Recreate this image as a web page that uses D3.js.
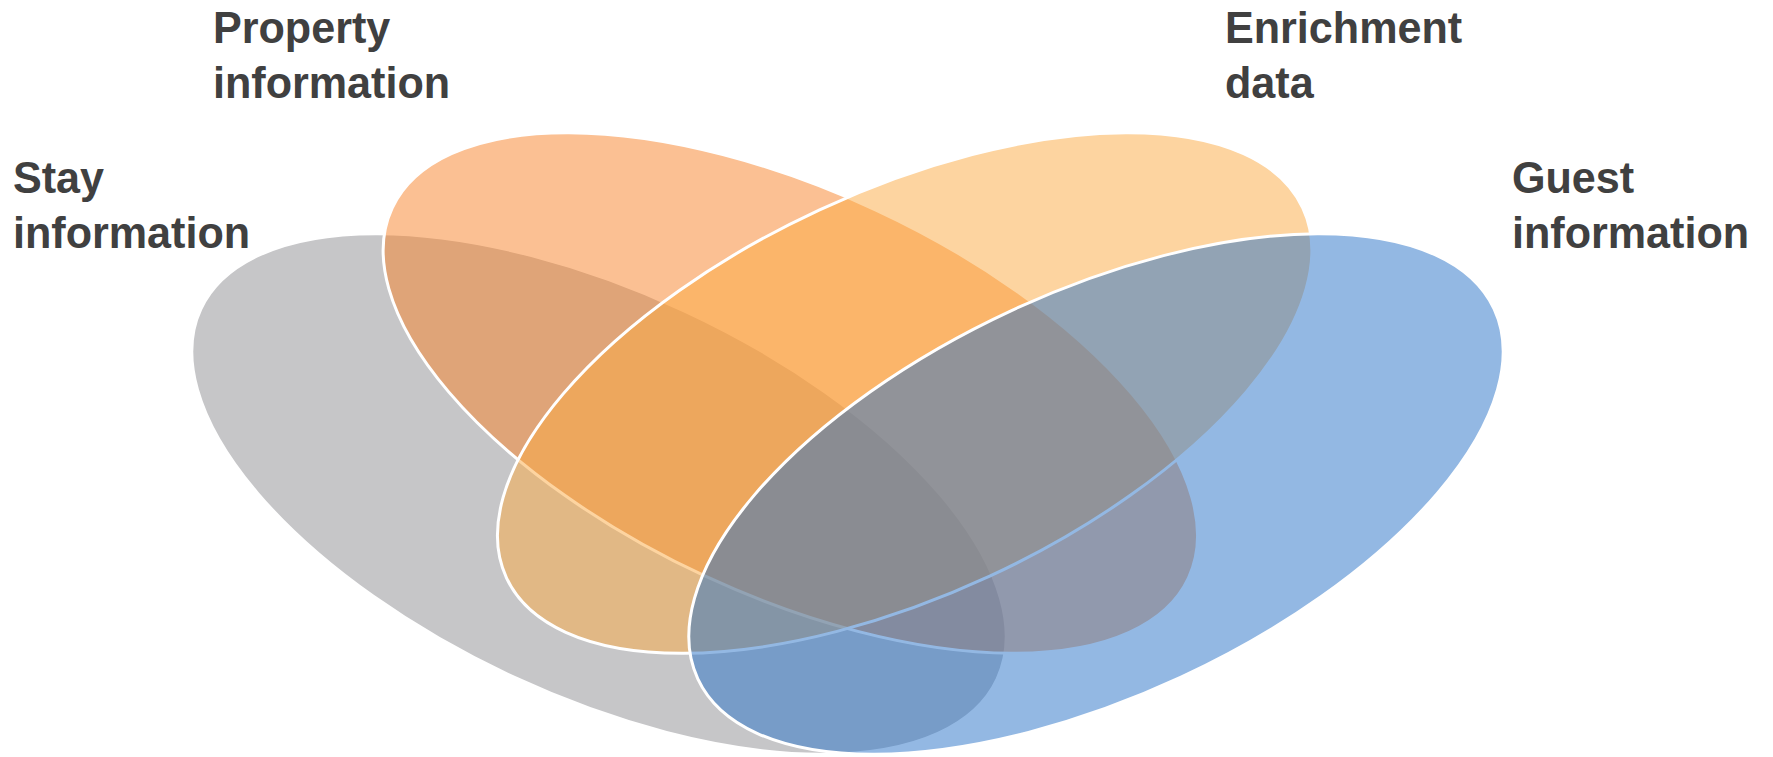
<!DOCTYPE html>
<html>
<head>
<meta charset="utf-8">
<script src="https://cdn.jsdelivr.net/npm/d3@7"></script>
<style>
  body { margin: 0; background: #fff; }
  svg { display: block; }
  .lbl { font-family: "Liberation Sans", Arial, sans-serif;
         font-weight: bold; font-size: 44px; fill: #404040; }
</style>
</head>
<body>
<div class="venn"></div>
<script>
// sets of the diagram (drawn in this order, first one at the bottom)
const setNames = ["Stay information", "Property information", "Enrichment data", "Guest information"]
const labelLines = [["Stay", "information"], ["Property", "information"], ["Enrichment", "data"], ["Guest", "information"]]
const setColors = ["#8d8d91", "#f78127", "#fba941", "#2771c7"]
// position of each set in venn units
const setX = [-1, -0.23, 0.23, 1]
const setY = [1, 0, 0, 1]
const setTilt = [1, 1, -1, -1]

// set the dimensions of the graph
var width = 1773,
    height = 757

var svg = d3.select(".venn")
  .append("svg")
  .attr("width", width)
  .attr("height", height)

var x = d3.scaleLinear().domain([-1, 1]).range([599, 1096])
var y = d3.scaleLinear().domain([0, 1]).range([393, 494])

const rx = 439, ry = 202, angle = 24.9

const data = setNames.map((d, i) => ({ name: d, lines: labelLines[i], color: setColors[i], x: setX[i], y: setY[i], tilt: setTilt[i] }))

svg.append("g")
  .selectAll("ellipse")
  .data(data)
  .enter()
  .append("ellipse")
  .attr("cx", d => x(d.x))
  .attr("cy", d => y(d.y))
  .attr("rx", rx)
  .attr("ry", ry)
  .attr("transform", d => "rotate(" + (d.tilt * angle) + "," + x(d.x) + "," + y(d.y) + ")")
  .attr("fill", d => d.color)
  .attr("fill-opacity", 0.5)
  .attr("stroke", "white")
  .attr("stroke-width", 3)

// label anchors (left x, first baseline)
const labelPos = [[13, 193], [213, 43], [1225, 43], [1512, 193]]
const lineGap = 55.5
const squeeze = 0.98 // original face is a bit narrower

svg.append("g")
  .selectAll("text")
  .data(data)
  .enter()
  .append("text")
  .attr("class", "lbl")
  .attr("transform", (d, i) => "translate(" + labelPos[i][0] + "," + labelPos[i][1] + ") scale(" + squeeze + ",1)")
  .each(function (d) {
    d3.select(this).selectAll("tspan")
      .data(d.lines)
      .enter()
      .append("tspan")
      .attr("x", 0)
      .attr("dy", (t, j) => j == 0 ? 0 : lineGap)
      .text(t => t)
  })
</script>
</body>
</html>
